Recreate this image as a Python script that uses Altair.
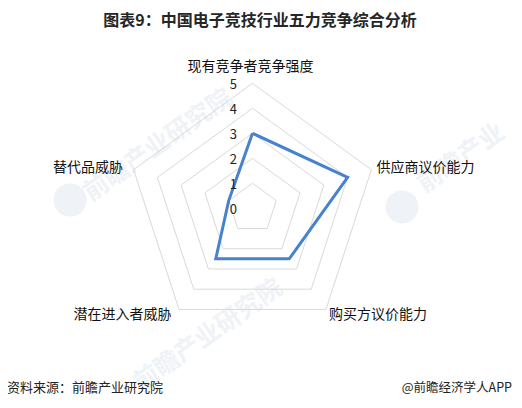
import altair as alt
import pandas as pd

# ---- data ----
categories = ["现有竞争者竞争强度", "供应商议价能力", "购买方议价能力", "潜在进入者威胁", "替代品威胁"]
values = [3, 4, 2.5, 2.5, 1]
levels = [1, 2, 3, 4, 5]
tick_values = [0, 1, 2, 3, 4, 5]
tick_labels = ["0", "1", "2", "3", "4", "5"]
title_text = "图表9：中国电子竞技行业五力竞争综合分析"
source_text = "资料来源：前瞻产业研究院"
brand_text = "@前瞻经济学人APP"
watermark_text = "前瞻产业研究院"
watermark_short = "前瞻产业"

N = len(categories)
FONT = "Noto Sans CJK SC"

series_df = pd.DataFrame({
    "idx": list(range(N + 1)),
    "value": [values[i % N] for i in range(N + 1)],
})
grid_df = pd.DataFrame([
    {"level": lv, "idx": i, "value": lv} for lv in levels for i in range(N + 1)
])
label_df = pd.DataFrame({"idx": list(range(N)), "cat": categories, "value": [max(levels)] * N})
tick_df = pd.DataFrame({"value": tick_values, "label": tick_labels})

W, H = 506, 392
xs = alt.Scale(domain=[-9.78, 10.46], nice=False, zero=False)
ys = alt.Scale(domain=[-7.668, 8.012], nice=False, zero=False)


def polarize(ch):
    return ch.transform_calculate(ang=f"PI/2 - 2*PI*datum.idx/{N}").transform_calculate(
        px="datum.value*cos(datum.ang)", py="datum.value*sin(datum.ang)"
    )


X = alt.X("px:Q", scale=xs, axis=None)
Y = alt.Y("py:Q", scale=ys, axis=None)

# faint watermarks (decoration)
wm_layers = []
for txt, cx, cy in [(watermark_text, 150, 137), (watermark_short, 453, 150), (watermark_text, 200, 327)]:
    wm_layers.append(
        alt.Chart(pd.DataFrame({"t": [txt]})).mark_text(
            font=FONT, fontSize=25, fontWeight="bold", color="#eff2f6", angle=325,
            align="center", baseline="middle"
        ).encode(x=alt.value(cx), y=alt.value(cy), text="t:N")
    )
for cx, cy in [(62, 192), (394, 199)]:
    wm_layers.append(
        alt.Chart(pd.DataFrame({"t": [1]})).mark_point(
            shape="circle", filled=True, size=1100, color="#eff2f6", opacity=1
        ).encode(x=alt.value(cx), y=alt.value(cy))
    )

grid = polarize(alt.Chart(grid_df)).mark_line(color="#d9d9d9", strokeWidth=1).encode(
    x=X, y=Y, detail="level:N", order="idx:Q"
)

series = polarize(alt.Chart(series_df)).mark_line(
    color="#4682cd", strokeWidth=3, strokeJoin="miter"
).encode(x=X, y=Y, order="idx:Q")

ticks = alt.Chart(tick_df).transform_calculate(px="-0.77").mark_text(
    font=FONT, fontSize=13, color="#222222", align="center", baseline="middle", dy=2
).encode(x=X, y=alt.Y("value:Q", scale=ys, axis=None), text="label:N")

label_specs = [
    (0, "center", -2, -16),
    (1, "left", 5, -1.5),
    (2, "left", 3, 6),
    (3, "right", -7.5, 6),
    (4, "right", -10.5, -2),
]
label_layers = []
for idx, al, dx, dy in label_specs:
    label_layers.append(
        polarize(alt.Chart(label_df)).transform_filter(f"datum.idx == {idx}").mark_text(
            font=FONT, fontSize=14, color="#111111", align=al, baseline="middle", dx=dx, dy=dy
        ).encode(x=X, y=Y, text="cat:N")
    )

title = alt.Chart(pd.DataFrame({"t": [title_text]})).mark_text(
    font=FONT, fontSize=16, fontWeight="bold", color="#262626", align="center", baseline="middle"
).encode(x=alt.value(252), y=alt.value(12.5), text="t:N")

source = alt.Chart(pd.DataFrame({"t": [source_text]})).mark_text(
    font=FONT, fontSize=13, color="#222222", align="left", baseline="middle"
).encode(x=alt.value(-1), y=alt.value(380), text="t:N")

brand = alt.Chart(pd.DataFrame({"t": [brand_text]})).mark_text(
    font=FONT, fontSize=12.5, color="#222222", align="right", baseline="middle"
).encode(x=alt.value(504), y=alt.value(380), text="t:N")

chart = alt.layer(*wm_layers, grid, series, ticks, *label_layers, title, source, brand).properties(
    width=W, height=H, autosize=alt.AutoSizeParams(type="none"), padding=0
).configure_view(stroke=None)

chart.save("out.html", embed_options={"renderer": "svg", "actions": False})
